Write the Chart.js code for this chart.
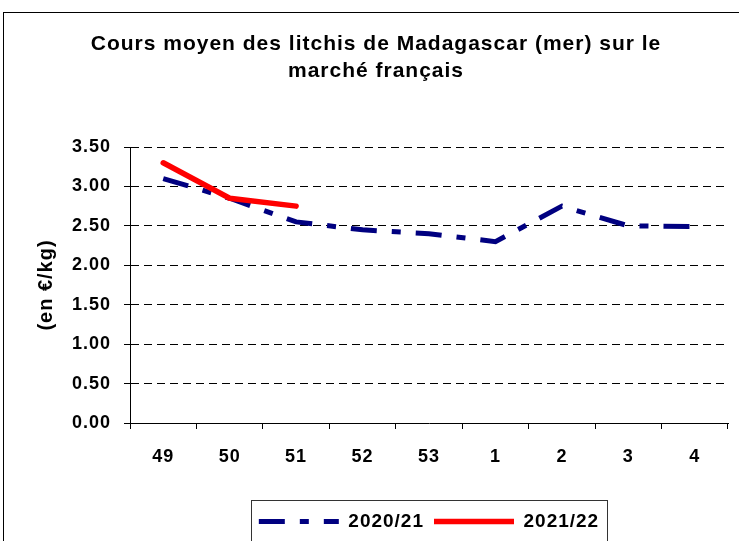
<!DOCTYPE html>
<html>
<head>
<meta charset="utf-8">
<script src="https://cdn.jsdelivr.net/npm/chart.js@4.4.0/dist/chart.umd.min.js"></script>
<style>
  html, body { margin: 0; padding: 0; background: #fff; overflow: hidden; }
  #wrap { position: relative; width: 739px; height: 541px; }
</style>
</head>
<body>
<div id="wrap"><canvas id="chart" width="739" height="541"></canvas></div>
<script>
// weeks (x axis) and average price in €/kg
const weeks = ["49", "50", "51", "52", "53", "1", "2", "3", "4"];
const season2021 = [3.1, 2.85, 2.55, 2.45, 2.4, 2.3, 2.75, 2.5, 2.49];
const season2122 = [3.3, 2.85, 2.75];
const seriesNames = ["2020/21", "2021/22"];
const titleLines = ["Cours moyen des litchis de Madagascar (mer) sur le", "marché français"];
const yLabel = "(en €/kg)";

const FONT = "'Liberation Sans', Arial, sans-serif";

// frame, letter spacing, legend box + a bit of nudging of title/legend
const frame = {
  id: "frame",
  beforeUpdate(chart) {
    chart.ctx.letterSpacing = "1px";
  },
  afterLayout(chart) {
    const t = chart.titleBlock;
    const tdx = 376 - (t.left + t.right) / 2;
    t.left += tdx;
    t.right += tdx;
    const lg = chart.legend;
    const ldx = 429 - (lg.left + lg.right) / 2;
    lg.left += ldx;
    lg.right += ldx;
  },
  beforeDraw(chart) {
    const ctx = chart.ctx;
    ctx.letterSpacing = "1px";
    ctx.save();
    ctx.strokeStyle = "#000";
    ctx.lineWidth = 1;
    ctx.strokeRect(3.5, 12.5, 800, 600);
    ctx.restore();
  },
  afterDraw(chart) {
    const hb = chart.legend.legendHitBoxes;
    if (!hb || !hb.length) return;
    const ctx = chart.ctx;
    const last = hb[hb.length - 1];
    const x1 = Math.round(hb[0].left - 8) + 0.5;
    const x2 = Math.round(last.left + last.width + 8) + 0.5;
    const y1 = Math.round(hb[0].top) - 11.5;
    ctx.save();
    ctx.strokeStyle = "#333";
    ctx.lineWidth = 1;
    ctx.strokeRect(x1, y1, x2 - x1, 100);
    ctx.restore();
  }
};

new Chart(document.getElementById("chart").getContext("2d"), {
  type: "line",
  data: {
    labels: weeks,
    datasets: [
      {
        label: seriesNames[0],
        data: season2021,
        borderColor: "#000080",
        backgroundColor: "#000080",
        borderWidth: 5,
        borderDash: [26, 15, 9, 15],
        borderCapStyle: "butt",
        pointRadius: 0,
        tension: 0,
        order: 1,
      },
      {
        label: seriesNames[1],
        data: season2122,
        borderColor: "#ff0000",
        backgroundColor: "#ff0000",
        borderWidth: 5.5,
        borderCapStyle: "round",
        borderJoinStyle: "round",
        pointRadius: 0,
        tension: 0,
        order: 0,
      },
    ],
  },
  options: {
    responsive: false,
    animation: false,
    layout: { padding: { left: 34, right: 11, top: 0, bottom: 0 } },
    plugins: {
      tooltip: { enabled: false },
      title: {
        display: true,
        text: titleLines,
        color: "#000",
        font: { family: FONT, size: 21, weight: "bold", lineHeight: "27px" },
        padding: { top: 31, bottom: 62 },
      },
      legend: {
        position: "bottom",
        labels: {
          color: "#000",
          font: { family: FONT, size: 19, weight: "bold" },
          usePointStyle: true,
          pointStyleWidth: 80,
          boxWidth: 80,
          padding: 10,
          generateLabels(chart) {
            return chart.data.datasets.map((ds, i) => ({
              text: ds.label,
              fillStyle: ds.borderColor,
              strokeStyle: ds.borderColor,
              lineWidth: ds.borderWidth,
              lineDash: ds.borderDash || [],
              lineCap: "butt",
              pointStyle: "line",
              fontColor: "#000",
              hidden: false,
              datasetIndex: i,
            }));
          },
        },
      },
    },
    scales: {
      x: {
        offset: true,
        afterFit(scale) { scale.height = 79; },
        grid: {
          offset: true,
          drawOnChartArea: false,
          drawTicks: true,
          tickLength: 6,
          color: "#000",
        },
        border: { color: "#000", width: 1 },
        ticks: {
          color: "#000",
          padding: 17,
          font: { family: FONT, size: 18, weight: "bold" },
          maxRotation: 0,
        },
      },
      y: {
        min: 0,
        max: 3.5,
        afterFit(scale) { scale.width = 96; },
        grid: {
          color: "#000",
          lineWidth: 1,
          tickLength: 6,
          tickColor: "#000",
        },
        border: { color: "#000", width: 1, dash: [8, 5] },
        ticks: {
          stepSize: 0.5,
          color: "#000",
          padding: 13,
          font: { family: FONT, size: 18, weight: "bold" },
          callback: (v) => Number(v).toFixed(2),
        },
        title: {
          display: true,
          text: yLabel,
          color: "#000",
          padding: 0,
          font: { family: FONT, size: 20, weight: "bold" },
        },
      },
    },
  },
  plugins: [frame],
});
</script>
</body>
</html>
